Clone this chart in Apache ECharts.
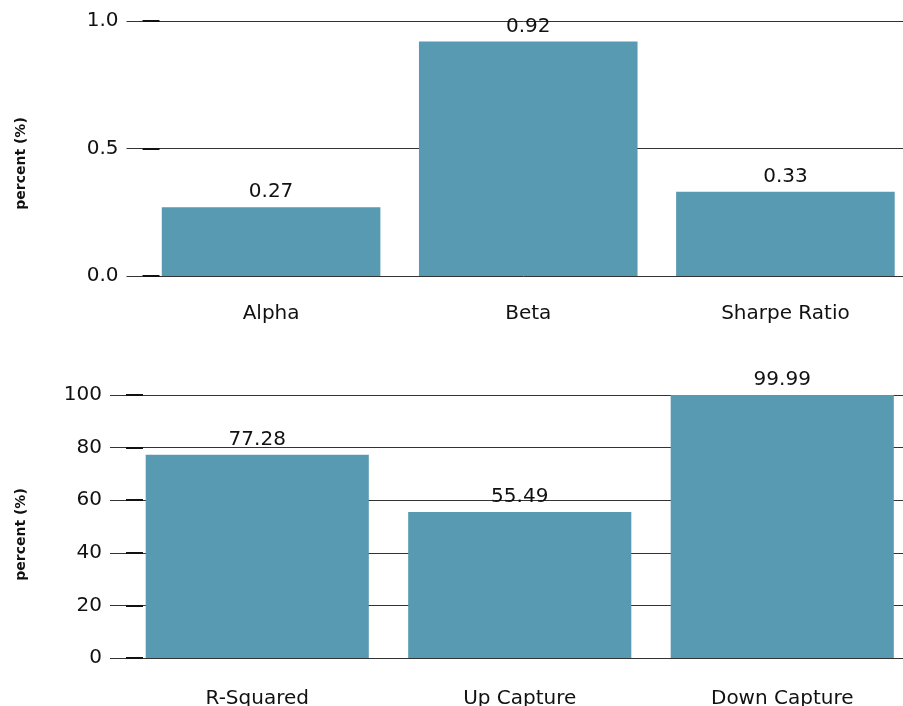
<!DOCTYPE html>
<html>
<head>
<meta charset="utf-8">
<script src="https://cdn.jsdelivr.net/npm/echarts@6/dist/echarts.min.js"></script>
<style>
html,body{margin:0;padding:0;background:#fff;}
#chart{width:903px;height:706px;}
</style>
</head>
<body>
<div id="chart"></div>
<script>
var topCategories = ['Alpha', 'Beta', 'Sharpe Ratio'];
var topValues = [0.27, 0.92, 0.33];
var bottomCategories = ['R-Squared', 'Up Capture', 'Down Capture'];
var bottomValues = [77.28, 55.49, 99.99];
var yName = 'percent (%)';

var FONT = 'DejaVu Sans';
var BAR = '#579ab2';
var GRIDC = '#333';

function mainY(gridIndex, min, max, interval, gap, fmt, pad) {
  return {
    type: 'value', gridIndex: gridIndex, position: 'left',
    min: min, max: max, interval: interval,
    name: yName, nameLocation: 'middle', nameGap: gap,
    nameTextStyle: {fontFamily: FONT, fontWeight: 'bold', fontSize: 14, color: '#111', padding: pad},
    axisLine: {show: false},
    axisTick: {show: true, inside: false, length: 16, lineStyle: {color: GRIDC, width: 1}},
    axisLabel: {fontFamily: FONT, fontSize: 20, color: '#111', margin: 24, formatter: fmt},
    splitLine: {show: true, lineStyle: {color: GRIDC, width: 1}}
  };
}
function overlayY(gridIndex, min, max, interval) {
  return {
    type: 'value', gridIndex: gridIndex, position: 'left',
    min: min, max: max, interval: interval,
    axisLine: {show: false},
    axisTick: {show: true, inside: true, length: 17, lineStyle: {color: '#111', width: 2}},
    axisLabel: {show: false},
    splitLine: {show: false}
  };
}
function catX(gridIndex, data, margin) {
  return {
    type: 'category', gridIndex: gridIndex, data: data,
    axisLine: {show: false}, axisTick: {show: false},
    axisLabel: {fontFamily: FONT, fontSize: 20, color: '#111', margin: margin}
  };
}
function barSeries(idx, yIdx, data, fmt) {
  return {
    type: 'bar', xAxisIndex: idx, yAxisIndex: yIdx, data: data,
    barCategoryGap: '15%',
    itemStyle: {color: BAR},
    label: {show: true, position: 'top', distance: 5, fontFamily: FONT, fontSize: 20, color: '#111', formatter: fmt},
    silent: true
  };
}

var chart = echarts.init(document.getElementById('chart'), null, {renderer: 'canvas'});
chart.setOption({
  animation: false,
  backgroundColor: '#fff',
  grid: [
    {left: 142.5, width: 771.5, top: 21, height: 255, outerBoundsMode: 'none', containLabel: false},
    {left: 126, width: 787.5, top: 395, height: 263, outerBoundsMode: 'none', containLabel: false}
  ],
  xAxis: [catX(0, topCategories, 28), catX(1, bottomCategories, 31)],
  yAxis: [
    mainY(0, 0, 1, 0.5, 114, function (v) { return v.toFixed(1); }, [0, 30, 0, 0]),
    overlayY(0, 0, 1, 0.5),
    mainY(1, 0, 100, 20, 98, function (v) { return String(v); }, [0, 16, 0, 0]),
    overlayY(1, 0, 100, 20)
  ],
  series: [
    barSeries(0, 0, topValues, function (p) { return p.value.toFixed(2); }),
    barSeries(1, 2, bottomValues, function (p) { return p.value.toFixed(2); })
  ]
});
</script>
</body>
</html>
